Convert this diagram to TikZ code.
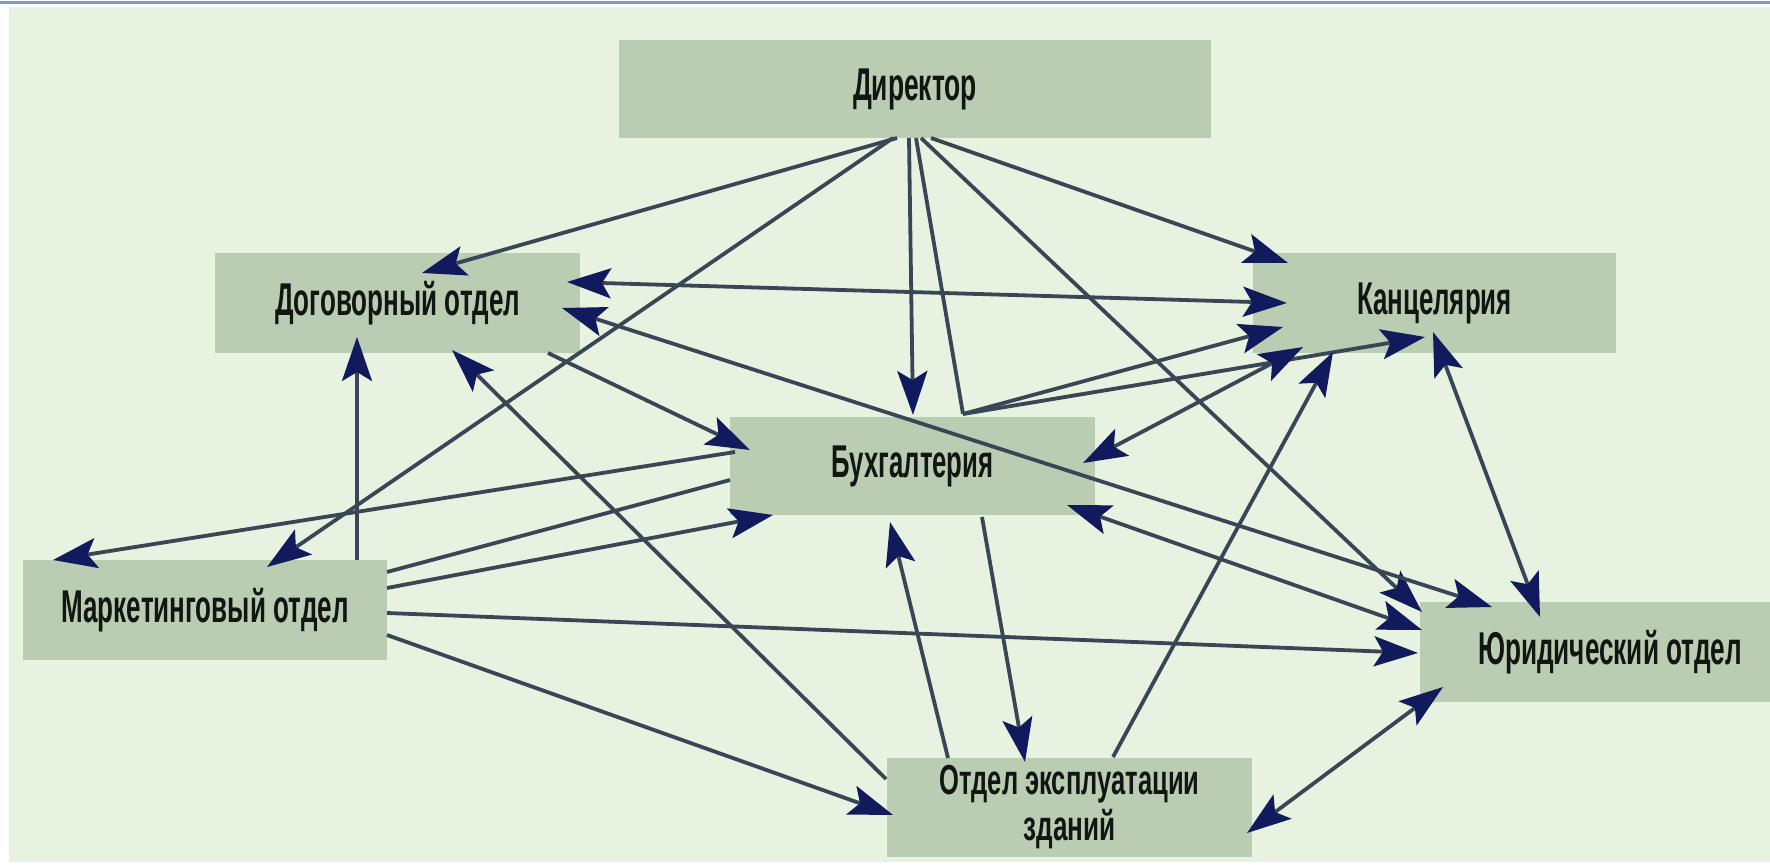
\documentclass[tikz,border=0pt]{standalone}
\usepackage{fontspec}
\usepackage{graphicx}
\usetikzlibrary{calc,arrows.meta}
\newfontfamily\lblfont{Liberation Sans}
\newcommand{\fitw}[2]{\resizebox{#1}{\height}{#2}}
\definecolor{bgc}{RGB}{231,243,224}
\definecolor{boxc}{RGB}{186,204,178}
\definecolor{linec}{RGB}{58,70,86}
\definecolor{tipc}{RGB}{16,26,92}
\definecolor{topc}{RGB}{125,155,195}
\definecolor{txtc}{RGB}{18,22,18}
\tikzset{
  box/.style={fill=boxc, draw=none, inner sep=0pt, outer sep=0pt, align=center,
    text=txtc, font=\lblfont\bfseries\fontsize{46}{44}\selectfont},
  conn/.style={draw=linec, line width=3.8pt},
  arr/.style={conn, -{Stealth[length=44pt,width=30pt,inset=9pt,color=tipc]}},
  darr/.style={conn, {Stealth[length=44pt,width=30pt,inset=9pt,color=tipc]}-{Stealth[length=44pt,width=30pt,inset=9pt,color=tipc]}}
}
\begin{document}
\begin{tikzpicture}[x=1pt,y=-1pt]
\useasboundingbox (0,0) rectangle (1770,867);
\fill[white] (0,0) rectangle (1770,867);
\fill[bgc] (9,7) rectangle (1770,862);
\draw[topc, line width=3pt] (0,3) -- (1770,3);

\node[box, minimum width=592pt, minimum height=98pt] (dir) at (915,89) {\fitw{124pt}{Директор}};
\node[box, minimum width=365pt, minimum height=100pt] (dog) at (397.5,303) {\fitw{245pt}{Договорный отдел}};
\node[box, minimum width=363pt, minimum height=100pt] (kan) at (1434.5,303) {\fitw{155pt}{Канцелярия}};
\node[box, minimum width=365pt, minimum height=98pt] (bux) at (912.5,466) {\fitw{162pt}{Бухгалтерия}};
\node[box, minimum width=364pt, minimum height=100pt] (mar) at (205,610) {\fitw{287pt}{Маркетинговый отдел}};
\node[box, minimum width=380pt, minimum height=100pt] (yur) at (1610,652) {\fitw{264pt}{Юридический отдел}};
\node[box, minimum width=365pt, minimum height=99pt, font=\lblfont\bfseries\fontsize{42}{44}\selectfont] (otd) at (1069.5,807.5) {\fitw{260pt}{Отдел эксплуатации}\\[2pt]\fitw{92pt}{зданий}};

% from Director
\draw[arr] ($(dir.north west)+(278,98)$) -- ($(dog.north west)+(207,20)$);
\draw[arr] ($(dir.north west)+(274,98)$) -- ($(mar.north west)+(244,7)$);
\draw[arr] ($(dir.north west)+(290,98)$) -- ($(bux.north west)+(183,-2)$);
\draw[conn] ($(dir.north west)+(297,98)$) -- ($(bux.north west)+(233,-3)$);
\draw[arr] ($(dir.north west)+(302,98)$) -- ($(yur.north west)+(2,10)$);
\draw[arr] ($(dir.north west)+(312,98)$) -- ($(kan.north west)+(35,10)$);

% Dogovorny
\draw[darr] ($(dog.north west)+(352,29)$) -- ($(kan.north west)+(34,50)$);
\draw[darr] ($(dog.north west)+(347,55)$) -- ($(yur.north west)+(72,5)$);
\draw[arr] ($(dog.north west)+(333,100)$) -- ($(bux.north west)+(20,33)$);

% Marketing
\draw[arr] ($(mar.north west)+(334,0)$) -- ($(dog.north west)+(142,84)$);
\draw[arr] ($(bux.north west)+(5,35)$) -- ($(mar.north west)+(30,0)$);
\draw[conn] ($(mar.north west)+(364,12)$) -- ($(bux.north west)+(0,63)$);
\draw[arr] ($(mar.north west)+(364,28)$) -- ($(bux.north west)+(43,98)$);
\draw[arr] ($(mar.north west)+(364,53)$) -- ($(yur.north west)+(-2,51)$);
\draw[arr] ($(mar.north west)+(364,75)$) -- ($(otd.north west)+(6,57)$);

% Buhgalteria
\draw[arr] ($(bux.north west)+(233,-3)$) -- ($(kan.north west)+(30,74)$);
\draw[arr] ($(bux.north west)+(233,-3)$) -- ($(kan.north west)+(172,84)$);
\draw[darr] ($(bux.north west)+(353,46)$) -- ($(kan.north west)+(50,94)$);
\draw[darr] ($(bux.north west)+(337,88)$) -- ($(yur.north west)+(2,28)$);
\draw[arr] ($(bux.north west)+(252,100)$) -- ($(otd.north west)+(138,4)$);

% Otdel ekspluatacii
\draw[arr] ($(otd.north west)+(-1,21)$) -- ($(dog.north west)+(237,97)$);
\draw[arr] ($(otd.north west)+(61,0)$) -- ($(bux.north west)+(160,105)$);
\draw[arr] ($(otd.north west)+(226,-1)$) -- ($(kan.north west)+(80,99)$);
\draw[darr] ($(otd.north west)+(360,75)$) -- ($(yur.north west)+(23,85)$);

% Kancelaria - Yuridichesky
\draw[darr] ($(kan.north west)+(180,79)$) -- ($(yur.north west)+(120,15)$);
\end{tikzpicture}
\end{document}
